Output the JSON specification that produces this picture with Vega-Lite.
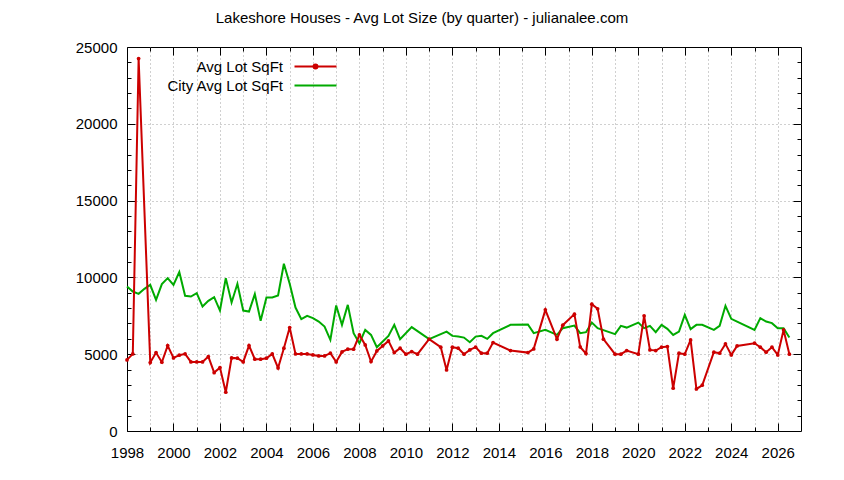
{
  "$schema": "https://vega.github.io/schema/vega-lite/v6.json",
  "width": 674,
  "height": 384,
  "autosize": {"type": "none"},
  "padding": {"left": 127, "top": 47, "right": 43, "bottom": 49},
  "background": "white",
  "title": {
    "text": "Lakeshore Houses - Avg Lot Size (by quarter) - julianalee.com",
    "font": "Liberation Sans",
    "fontSize": 15,
    "fontWeight": "normal",
    "color": "black",
    "anchor": "middle",
    "dx": -42,
    "offset": 14
  },
  "config": {
    "view": {"stroke": "black", "strokeWidth": 1},
    "font": "Liberation Sans",
    "axis": {
      "domain": false,
      "grid": false,
      "tickCount": 40,
      "labelFont": "Liberation Sans",
      "labelFontSize": 15,
      "labelColor": "black",
      "labelFlush": false,
      "labelOverlap": false,
      "tickColor": "black",
      "tickWidth": 1,
      "gridColor": "#a0a0a0",
      "gridDash": [1, 3],
      "gridWidth": 1,
      "title": null
    }
  },
  "data": {
    "values": [
      {"date": 1998.0, "series": "Avg Lot SqFt", "sqft": 4628},
      {"date": 1998.25, "series": "Avg Lot SqFt", "sqft": 5020},
      {"date": 1998.5, "series": "Avg Lot SqFt", "sqft": 24250},
      {"date": 1999.0, "series": "Avg Lot SqFt", "sqft": 4452},
      {"date": 1999.25, "series": "Avg Lot SqFt", "sqft": 5104},
      {"date": 1999.5, "series": "Avg Lot SqFt", "sqft": 4478},
      {"date": 1999.75, "series": "Avg Lot SqFt", "sqft": 5561},
      {"date": 2000.0, "series": "Avg Lot SqFt", "sqft": 4759},
      {"date": 2000.25, "series": "Avg Lot SqFt", "sqft": 4935},
      {"date": 2000.5, "series": "Avg Lot SqFt", "sqft": 5020},
      {"date": 2000.75, "series": "Avg Lot SqFt", "sqft": 4498},
      {"date": 2001.0, "series": "Avg Lot SqFt", "sqft": 4498},
      {"date": 2001.25, "series": "Avg Lot SqFt", "sqft": 4498},
      {"date": 2001.5, "series": "Avg Lot SqFt", "sqft": 4844},
      {"date": 2001.75, "series": "Avg Lot SqFt", "sqft": 3800},
      {"date": 2002.0, "series": "Avg Lot SqFt", "sqft": 4126},
      {"date": 2002.25, "series": "Avg Lot SqFt", "sqft": 2523},
      {"date": 2002.5, "series": "Avg Lot SqFt", "sqft": 4759},
      {"date": 2002.75, "series": "Avg Lot SqFt", "sqft": 4739},
      {"date": 2003.0, "series": "Avg Lot SqFt", "sqft": 4498},
      {"date": 2003.25, "series": "Avg Lot SqFt", "sqft": 5561},
      {"date": 2003.5, "series": "Avg Lot SqFt", "sqft": 4674},
      {"date": 2003.75, "series": "Avg Lot SqFt", "sqft": 4674},
      {"date": 2004.0, "series": "Avg Lot SqFt", "sqft": 4739},
      {"date": 2004.25, "series": "Avg Lot SqFt", "sqft": 5020},
      {"date": 2004.5, "series": "Avg Lot SqFt", "sqft": 4107},
      {"date": 2004.75, "series": "Avg Lot SqFt", "sqft": 5391},
      {"date": 2005.0, "series": "Avg Lot SqFt", "sqft": 6734},
      {"date": 2005.25, "series": "Avg Lot SqFt", "sqft": 5020},
      {"date": 2005.5, "series": "Avg Lot SqFt", "sqft": 5020},
      {"date": 2005.75, "series": "Avg Lot SqFt", "sqft": 5020},
      {"date": 2006.0, "series": "Avg Lot SqFt", "sqft": 4950},
      {"date": 2006.25, "series": "Avg Lot SqFt", "sqft": 4889},
      {"date": 2006.5, "series": "Avg Lot SqFt", "sqft": 4889},
      {"date": 2006.75, "series": "Avg Lot SqFt", "sqft": 5065},
      {"date": 2007.0, "series": "Avg Lot SqFt", "sqft": 4498},
      {"date": 2007.25, "series": "Avg Lot SqFt", "sqft": 5150},
      {"date": 2007.5, "series": "Avg Lot SqFt", "sqft": 5326},
      {"date": 2007.75, "series": "Avg Lot SqFt", "sqft": 5326},
      {"date": 2008.0, "series": "Avg Lot SqFt", "sqft": 6258},
      {"date": 2008.25, "series": "Avg Lot SqFt", "sqft": 5606},
      {"date": 2008.5, "series": "Avg Lot SqFt", "sqft": 4518},
      {"date": 2008.75, "series": "Avg Lot SqFt", "sqft": 5215},
      {"date": 2009.0, "series": "Avg Lot SqFt", "sqft": 5541},
      {"date": 2009.25, "series": "Avg Lot SqFt", "sqft": 5867},
      {"date": 2009.5, "series": "Avg Lot SqFt", "sqft": 5104},
      {"date": 2009.75, "series": "Avg Lot SqFt", "sqft": 5391},
      {"date": 2010.0, "series": "Avg Lot SqFt", "sqft": 5000},
      {"date": 2010.25, "series": "Avg Lot SqFt", "sqft": 5169},
      {"date": 2010.5, "series": "Avg Lot SqFt", "sqft": 5000},
      {"date": 2011.0, "series": "Avg Lot SqFt", "sqft": 5978},
      {"date": 2011.5, "series": "Avg Lot SqFt", "sqft": 5456},
      {"date": 2011.75, "series": "Avg Lot SqFt", "sqft": 3977},
      {"date": 2012.0, "series": "Avg Lot SqFt", "sqft": 5456},
      {"date": 2012.25, "series": "Avg Lot SqFt", "sqft": 5391},
      {"date": 2012.5, "series": "Avg Lot SqFt", "sqft": 5000},
      {"date": 2012.75, "series": "Avg Lot SqFt", "sqft": 5280},
      {"date": 2013.0, "series": "Avg Lot SqFt", "sqft": 5456},
      {"date": 2013.25, "series": "Avg Lot SqFt", "sqft": 5065},
      {"date": 2013.5, "series": "Avg Lot SqFt", "sqft": 5065},
      {"date": 2013.75, "series": "Avg Lot SqFt", "sqft": 5756},
      {"date": 2014.5, "series": "Avg Lot SqFt", "sqft": 5235},
      {"date": 2015.25, "series": "Avg Lot SqFt", "sqft": 5104},
      {"date": 2015.5, "series": "Avg Lot SqFt", "sqft": 5346},
      {"date": 2016.0, "series": "Avg Lot SqFt", "sqft": 7888},
      {"date": 2016.5, "series": "Avg Lot SqFt", "sqft": 5978},
      {"date": 2016.75, "series": "Avg Lot SqFt", "sqft": 6890},
      {"date": 2017.25, "series": "Avg Lot SqFt", "sqft": 7608},
      {"date": 2017.5, "series": "Avg Lot SqFt", "sqft": 5470},
      {"date": 2017.75, "series": "Avg Lot SqFt", "sqft": 5039},
      {"date": 2018.0, "series": "Avg Lot SqFt", "sqft": 8259},
      {"date": 2018.25, "series": "Avg Lot SqFt", "sqft": 7953},
      {"date": 2018.5, "series": "Avg Lot SqFt", "sqft": 5978},
      {"date": 2019.0, "series": "Avg Lot SqFt", "sqft": 5000},
      {"date": 2019.25, "series": "Avg Lot SqFt", "sqft": 5000},
      {"date": 2019.5, "series": "Avg Lot SqFt", "sqft": 5235},
      {"date": 2020.0, "series": "Avg Lot SqFt", "sqft": 5000},
      {"date": 2020.25, "series": "Avg Lot SqFt", "sqft": 7497},
      {"date": 2020.5, "series": "Avg Lot SqFt", "sqft": 5280},
      {"date": 2020.75, "series": "Avg Lot SqFt", "sqft": 5235},
      {"date": 2021.0, "series": "Avg Lot SqFt", "sqft": 5456},
      {"date": 2021.25, "series": "Avg Lot SqFt", "sqft": 5495},
      {"date": 2021.5, "series": "Avg Lot SqFt", "sqft": 2784},
      {"date": 2021.75, "series": "Avg Lot SqFt", "sqft": 5065},
      {"date": 2022.0, "series": "Avg Lot SqFt", "sqft": 5000},
      {"date": 2022.25, "series": "Avg Lot SqFt", "sqft": 5932},
      {"date": 2022.5, "series": "Avg Lot SqFt", "sqft": 2738},
      {"date": 2022.75, "series": "Avg Lot SqFt", "sqft": 2979},
      {"date": 2023.25, "series": "Avg Lot SqFt", "sqft": 5130},
      {"date": 2023.5, "series": "Avg Lot SqFt", "sqft": 5065},
      {"date": 2023.75, "series": "Avg Lot SqFt", "sqft": 5671},
      {"date": 2024.0, "series": "Avg Lot SqFt", "sqft": 4954},
      {"date": 2024.25, "series": "Avg Lot SqFt", "sqft": 5541},
      {"date": 2025.0, "series": "Avg Lot SqFt", "sqft": 5717},
      {"date": 2025.25, "series": "Avg Lot SqFt", "sqft": 5456},
      {"date": 2025.5, "series": "Avg Lot SqFt", "sqft": 5130},
      {"date": 2025.75, "series": "Avg Lot SqFt", "sqft": 5456},
      {"date": 2026.0, "series": "Avg Lot SqFt", "sqft": 4954},
      {"date": 2026.25, "series": "Avg Lot SqFt", "sqft": 6584},
      {"date": 2026.5, "series": "Avg Lot SqFt", "sqft": 5000},
      {"date": 1998.0, "series": "City Avg Lot SqFt", "sqft": 9407},
      {"date": 1998.25, "series": "City Avg Lot SqFt", "sqft": 9081},
      {"date": 1998.5, "series": "City Avg Lot SqFt", "sqft": 8931},
      {"date": 1998.75, "series": "City Avg Lot SqFt", "sqft": 9257},
      {"date": 1999.0, "series": "City Avg Lot SqFt", "sqft": 9518},
      {"date": 1999.25, "series": "City Avg Lot SqFt", "sqft": 8540},
      {"date": 1999.5, "series": "City Avg Lot SqFt", "sqft": 9563},
      {"date": 1999.75, "series": "City Avg Lot SqFt", "sqft": 9954},
      {"date": 2000.0, "series": "City Avg Lot SqFt", "sqft": 9518},
      {"date": 2000.25, "series": "City Avg Lot SqFt", "sqft": 10346},
      {"date": 2000.5, "series": "City Avg Lot SqFt", "sqft": 8801},
      {"date": 2000.75, "series": "City Avg Lot SqFt", "sqft": 8755},
      {"date": 2001.0, "series": "City Avg Lot SqFt", "sqft": 8977},
      {"date": 2001.25, "series": "City Avg Lot SqFt", "sqft": 8103},
      {"date": 2001.5, "series": "City Avg Lot SqFt", "sqft": 8475},
      {"date": 2001.75, "series": "City Avg Lot SqFt", "sqft": 8716},
      {"date": 2002.0, "series": "City Avg Lot SqFt", "sqft": 7842},
      {"date": 2002.25, "series": "City Avg Lot SqFt", "sqft": 9954},
      {"date": 2002.5, "series": "City Avg Lot SqFt", "sqft": 8364},
      {"date": 2002.75, "series": "City Avg Lot SqFt", "sqft": 9583},
      {"date": 2003.0, "series": "City Avg Lot SqFt", "sqft": 7842},
      {"date": 2003.25, "series": "City Avg Lot SqFt", "sqft": 7777},
      {"date": 2003.5, "series": "City Avg Lot SqFt", "sqft": 8911},
      {"date": 2003.75, "series": "City Avg Lot SqFt", "sqft": 7171},
      {"date": 2004.0, "series": "City Avg Lot SqFt", "sqft": 8690},
      {"date": 2004.25, "series": "City Avg Lot SqFt", "sqft": 8690},
      {"date": 2004.5, "series": "City Avg Lot SqFt", "sqft": 8820},
      {"date": 2004.75, "series": "City Avg Lot SqFt", "sqft": 10887},
      {"date": 2005.0, "series": "City Avg Lot SqFt", "sqft": 9583},
      {"date": 2005.25, "series": "City Avg Lot SqFt", "sqft": 8038},
      {"date": 2005.5, "series": "City Avg Lot SqFt", "sqft": 7282},
      {"date": 2005.75, "series": "City Avg Lot SqFt", "sqft": 7497},
      {"date": 2006.0, "series": "City Avg Lot SqFt", "sqft": 7347},
      {"date": 2006.25, "series": "City Avg Lot SqFt", "sqft": 7125},
      {"date": 2006.5, "series": "City Avg Lot SqFt", "sqft": 6799},
      {"date": 2006.75, "series": "City Avg Lot SqFt", "sqft": 5932},
      {"date": 2007.0, "series": "City Avg Lot SqFt", "sqft": 8168},
      {"date": 2007.25, "series": "City Avg Lot SqFt", "sqft": 6910},
      {"date": 2007.5, "series": "City Avg Lot SqFt", "sqft": 8214},
      {"date": 2007.75, "series": "City Avg Lot SqFt", "sqft": 6369},
      {"date": 2008.0, "series": "City Avg Lot SqFt", "sqft": 5717},
      {"date": 2008.25, "series": "City Avg Lot SqFt", "sqft": 6584},
      {"date": 2008.5, "series": "City Avg Lot SqFt", "sqft": 6258},
      {"date": 2008.75, "series": "City Avg Lot SqFt", "sqft": 5456},
      {"date": 2009.25, "series": "City Avg Lot SqFt", "sqft": 6193},
      {"date": 2009.5, "series": "City Avg Lot SqFt", "sqft": 6910},
      {"date": 2009.75, "series": "City Avg Lot SqFt", "sqft": 5978},
      {"date": 2010.25, "series": "City Avg Lot SqFt", "sqft": 6760},
      {"date": 2011.0, "series": "City Avg Lot SqFt", "sqft": 5978},
      {"date": 2011.75, "series": "City Avg Lot SqFt", "sqft": 6473},
      {"date": 2012.0, "series": "City Avg Lot SqFt", "sqft": 6193},
      {"date": 2012.25, "series": "City Avg Lot SqFt", "sqft": 6147},
      {"date": 2012.5, "series": "City Avg Lot SqFt", "sqft": 6082},
      {"date": 2012.75, "series": "City Avg Lot SqFt", "sqft": 5782},
      {"date": 2013.0, "series": "City Avg Lot SqFt", "sqft": 6147},
      {"date": 2013.25, "series": "City Avg Lot SqFt", "sqft": 6193},
      {"date": 2013.5, "series": "City Avg Lot SqFt", "sqft": 5997},
      {"date": 2013.75, "series": "City Avg Lot SqFt", "sqft": 6369},
      {"date": 2014.5, "series": "City Avg Lot SqFt", "sqft": 6910},
      {"date": 2015.25, "series": "City Avg Lot SqFt", "sqft": 6930},
      {"date": 2015.5, "series": "City Avg Lot SqFt", "sqft": 6369},
      {"date": 2016.0, "series": "City Avg Lot SqFt", "sqft": 6584},
      {"date": 2016.5, "series": "City Avg Lot SqFt", "sqft": 6258},
      {"date": 2016.75, "series": "City Avg Lot SqFt", "sqft": 6695},
      {"date": 2017.25, "series": "City Avg Lot SqFt", "sqft": 6864},
      {"date": 2017.5, "series": "City Avg Lot SqFt", "sqft": 6369},
      {"date": 2017.75, "series": "City Avg Lot SqFt", "sqft": 6434},
      {"date": 2018.0, "series": "City Avg Lot SqFt", "sqft": 7060},
      {"date": 2018.25, "series": "City Avg Lot SqFt", "sqft": 6695},
      {"date": 2019.0, "series": "City Avg Lot SqFt", "sqft": 6304},
      {"date": 2019.25, "series": "City Avg Lot SqFt", "sqft": 6845},
      {"date": 2019.5, "series": "City Avg Lot SqFt", "sqft": 6734},
      {"date": 2020.0, "series": "City Avg Lot SqFt", "sqft": 7060},
      {"date": 2020.25, "series": "City Avg Lot SqFt", "sqft": 6695},
      {"date": 2020.5, "series": "City Avg Lot SqFt", "sqft": 6845},
      {"date": 2020.75, "series": "City Avg Lot SqFt", "sqft": 6434},
      {"date": 2021.0, "series": "City Avg Lot SqFt", "sqft": 6910},
      {"date": 2021.25, "series": "City Avg Lot SqFt", "sqft": 6649},
      {"date": 2021.5, "series": "City Avg Lot SqFt", "sqft": 6258},
      {"date": 2021.75, "series": "City Avg Lot SqFt", "sqft": 6473},
      {"date": 2022.0, "series": "City Avg Lot SqFt", "sqft": 7562},
      {"date": 2022.25, "series": "City Avg Lot SqFt", "sqft": 6630},
      {"date": 2022.5, "series": "City Avg Lot SqFt", "sqft": 6910},
      {"date": 2022.75, "series": "City Avg Lot SqFt", "sqft": 6910},
      {"date": 2023.25, "series": "City Avg Lot SqFt", "sqft": 6584},
      {"date": 2023.5, "series": "City Avg Lot SqFt", "sqft": 6845},
      {"date": 2023.75, "series": "City Avg Lot SqFt", "sqft": 8149},
      {"date": 2024.0, "series": "City Avg Lot SqFt", "sqft": 7301},
      {"date": 2024.25, "series": "City Avg Lot SqFt", "sqft": 7125},
      {"date": 2025.0, "series": "City Avg Lot SqFt", "sqft": 6584},
      {"date": 2025.25, "series": "City Avg Lot SqFt", "sqft": 7347},
      {"date": 2025.5, "series": "City Avg Lot SqFt", "sqft": 7125},
      {"date": 2025.75, "series": "City Avg Lot SqFt", "sqft": 7021},
      {"date": 2026.0, "series": "City Avg Lot SqFt", "sqft": 6695},
      {"date": 2026.25, "series": "City Avg Lot SqFt", "sqft": 6695},
      {"date": 2026.5, "series": "City Avg Lot SqFt", "sqft": 6082}
    ]
  },
  "resolve": {"axis": {"x": "independent", "y": "independent"}},
  "layer": [
    {
      "mark": {"type": "point", "opacity": 0},
      "encoding": {
        "x": {
          "field": "date", "type": "quantitative",
          "scale": {"domain": [1998, 2027], "nice": false, "zero": false},
          "axis": {
            "orient": "bottom",
            "values": [1999, 2001, 2003, 2005, 2007, 2009, 2011, 2013, 2015, 2017, 2019, 2021, 2023, 2025],
            "labels": false, "tickSize": -4, "grid": true
          }
        },
        "y": {
          "field": "sqft", "type": "quantitative",
          "scale": {"domain": [0, 25000], "nice": false},
          "axis": {
            "orient": "left",
            "values": [1000, 2000, 3000, 4000, 6000, 7000, 8000, 9000, 11000, 12000, 13000, 14000, 16000, 17000, 18000, 19000, 21000, 22000, 23000, 24000],
            "labels": false, "tickSize": -4, "grid": false
          }
        }
      }
    },
    {
      "mark": {"type": "point", "opacity": 0},
      "encoding": {
        "x": {
          "field": "date", "type": "quantitative",
          "axis": {
            "orient": "top",
            "values": [1999, 2001, 2003, 2005, 2007, 2009, 2011, 2013, 2015, 2017, 2019, 2021, 2023, 2025],
            "labels": false, "tickSize": -4, "grid": false
          }
        },
        "y": {
          "field": "sqft", "type": "quantitative",
          "axis": {
            "orient": "right",
            "values": [1000, 2000, 3000, 4000, 6000, 7000, 8000, 9000, 11000, 12000, 13000, 14000, 16000, 17000, 18000, 19000, 21000, 22000, 23000, 24000],
            "labels": false, "tickSize": -4, "grid": false
          }
        }
      }
    },
    {
      "mark": {"type": "point", "opacity": 0},
      "encoding": {
        "x": {
          "field": "date", "type": "quantitative",
          "axis": {
            "orient": "top",
            "values": [2000, 2002, 2004, 2006, 2008, 2010, 2012, 2014, 2016, 2018, 2020, 2022, 2024, 2026],
            "labels": false, "tickSize": -8, "grid": true
          }
        },
        "y": {
          "field": "sqft", "type": "quantitative",
          "axis": {
            "orient": "right",
            "values": [5000, 10000, 15000, 20000],
            "labels": false, "tickSize": -8, "grid": true
          }
        }
      }
    },
    {
      "transform": [{"filter": "datum.series === 'City Avg Lot SqFt'"}],
      "mark": {"type": "line", "strokeWidth": 2},
      "encoding": {
        "x": {
          "field": "date", "type": "quantitative",
          "axis": {
            "orient": "bottom",
            "values": [1998, 2000, 2002, 2004, 2006, 2008, 2010, 2012, 2014, 2016, 2018, 2020, 2022, 2024, 2026],
            "format": "d", "tickSize": -8, "labelPadding": 22, "grid": false
          }
        },
        "y": {
          "field": "sqft", "type": "quantitative",
          "axis": {
            "orient": "left",
            "values": [0, 5000, 10000, 15000, 20000, 25000],
            "format": "d", "tickSize": -8, "labelPadding": 18, "grid": false
          }
        },
        "color": {
          "field": "series", "type": "nominal",
          "scale": {"domain": ["Avg Lot SqFt", "City Avg Lot SqFt"], "range": ["#cc0000", "#00aa00"]},
          "legend": {
            "title": null,
            "orient": "none",
            "legendX": 36,
            "legendY": 12,
            "padding": 0,
            "symbolType": "M-4.2,0H4.2",
            "symbolSize": 100,
            "symbolStrokeWidth": 2,
            "symbolOffset": 145,
            "labelOffset": -40,
            "labelAlign": "right",
            "labelFont": "Liberation Sans",
            "labelFontSize": 15,
            "labelColor": "black",
            "rowPadding": 3,
            "encode": {
              "symbols": {
                "update": {
                  "shape": {"signal": "datum.value === 'Avg Lot SqFt' ? 'M-4.2,0H4.2M0.4,0A0.4,0.4,0,1,1,-0.4,0A0.4,0.4,0,1,1,0.4,0Z' : 'M-4.2,0H4.2'"}
                }
              }
            }
          }
        }
      }
    },
    {
      "transform": [{"filter": "datum.series === 'Avg Lot SqFt'"}],
      "mark": {"type": "line", "strokeWidth": 2},
      "encoding": {
        "x": {"field": "date", "type": "quantitative", "axis": null},
        "y": {"field": "sqft", "type": "quantitative", "axis": null},
        "color": {"field": "series", "type": "nominal"}
      }
    },
    {
      "transform": [{"filter": "datum.series === 'Avg Lot SqFt'"}],
      "mark": {"type": "point", "filled": true, "size": 14, "opacity": 1},
      "encoding": {
        "x": {"field": "date", "type": "quantitative", "axis": null},
        "y": {"field": "sqft", "type": "quantitative", "axis": null},
        "color": {"field": "series", "type": "nominal"}
      }
    }
  ]
}
